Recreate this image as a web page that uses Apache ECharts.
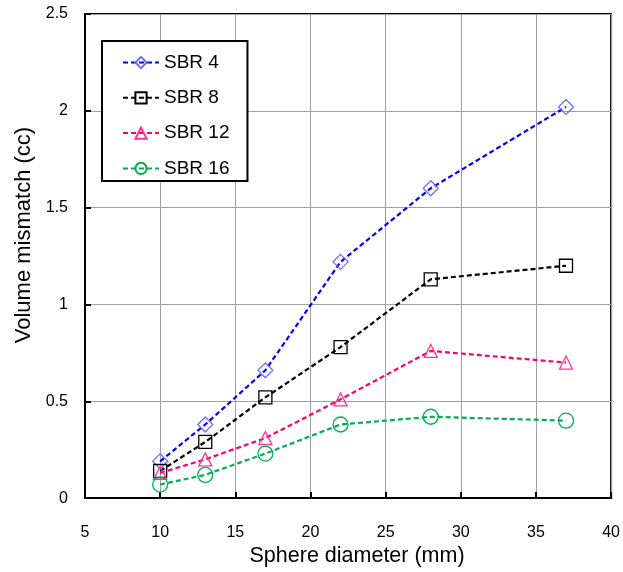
<!DOCTYPE html>
<html><head><meta charset="utf-8">
<script src="https://cdn.jsdelivr.net/npm/echarts@6/dist/echarts.min.js"></script>
<style>html,body{margin:0;padding:0;background:#fff}#c{width:623px;height:572px}</style>
</head><body><div id="c"></div>
<script>
const diameters = [10, 13, 17, 22, 28, 37];
const sbr4  = [0.19, 0.38, 0.66, 1.22, 1.60, 2.02];
const sbr8  = [0.14, 0.29, 0.52, 0.78, 1.13, 1.20];
const sbr12 = [0.13, 0.20, 0.31, 0.51, 0.76, 0.70];
const sbr16 = [0.07, 0.12, 0.23, 0.38, 0.42, 0.40];
const seriesNames = ['SBR 4', 'SBR 8', 'SBR 12', 'SBR 16'];

const F = 'Liberation Sans, Arial, sans-serif';
function mk(name, vals, lineColor, markColor, symbol, size) {
  return {
    name: name, type: 'line',
    data: diameters.map((d, i) => [d, vals[i]]),
    symbol: symbol, symbolSize: size,
    lineStyle: { color: lineColor, width: 2.2, type: [5, 3] },
    itemStyle: { color: 'rgba(255,255,255,0)', borderColor: markColor, borderWidth: 1.3 },
    emphasis: { disabled: true },
    z: 3
  };
}
const chart = echarts.init(document.getElementById('c'), null, { renderer: 'canvas' });
chart.setOption({
  animation: false,
  grid: { left: 85, right: 10, top: 14, bottom: 73, show: true, borderColor: '#000', borderWidth: 2, backgroundColor: 'transparent' },
  legend: {
    orient: 'vertical', left: 102, top: 41,
    data: seriesNames,
    backgroundColor: '#fff',
    borderColor: '#000', borderWidth: 2, borderRadius: 0,
    padding: [12, 18, 3, 20],
    itemWidth: 36, itemHeight: 14, itemGap: 16.3,
    textStyle: { fontFamily: F, fontSize: 19, color: '#000' }
  },
  xAxis: {
    type: 'value', min: 5, max: 40, interval: 5,
    name: 'Sphere diameter (mm)', nameLocation: 'middle', nameGap: 45,
    nameTextStyle: { fontFamily: F, fontSize: 21.5, color: '#000', padding: [0, 0, 0, 18] },
    axisLine: { lineStyle: { color: '#000', width: 2 } },
    axisTick: { inside: true, length: 6, lineStyle: { color: '#000', width: 2 } },
    axisLabel: { fontFamily: F, fontSize: 16, color: '#000', margin: 26 },
    splitLine: { lineStyle: { color: '#a0a0a0', width: 1 } }
  },
  yAxis: {
    type: 'value', min: 0, max: 2.5, interval: 0.5,
    name: 'Volume mismatch (cc)', nameLocation: 'middle', nameGap: 42,
    nameTextStyle: { fontFamily: F, fontSize: 22, color: '#000', padding: [0, 0, 0, 42] },
    axisLine: { lineStyle: { color: '#000', width: 2 } },
    axisTick: { inside: true, length: 6, lineStyle: { color: '#000', width: 2 } },
    axisLabel: { fontFamily: F, fontSize: 16, color: '#000', margin: 17 },
    splitLine: { lineStyle: { color: '#a0a0a0', width: 1 } }
  },
  series: [
    mk(seriesNames[0], sbr4, '#0000ff', '#6f6fff', 'diamond', 15),
    mk(seriesNames[1], sbr8, '#000000', '#000000', 'rect', 13),
    mk(seriesNames[2], sbr12, '#ff0066', '#ff3399', 'triangle', 13),
    mk(seriesNames[3], sbr16, '#00b050', '#00b050', 'circle', 15)
  ]
});
</script></body></html>
